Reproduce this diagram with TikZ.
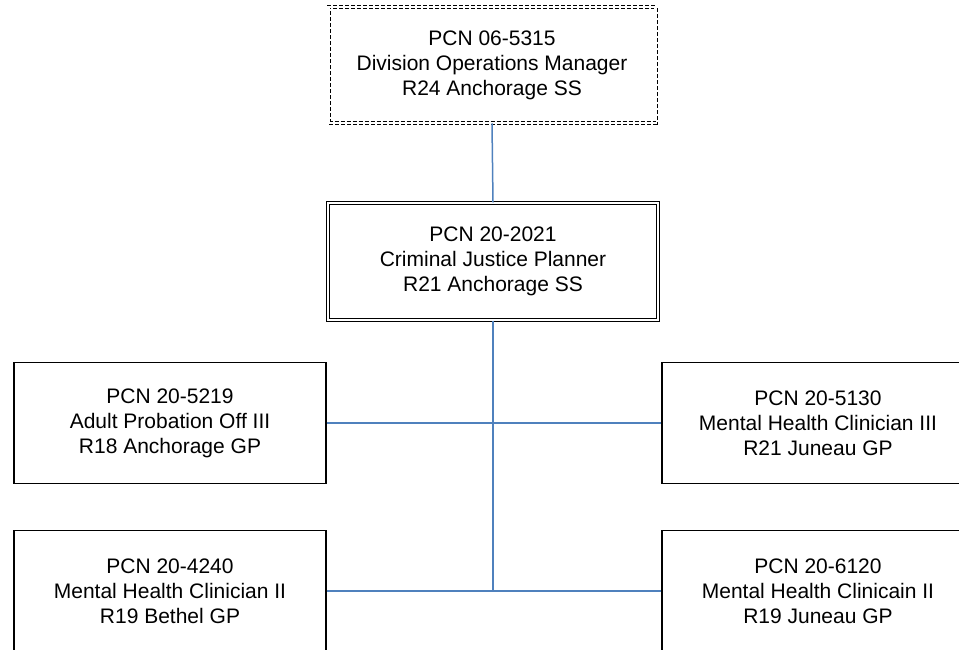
\documentclass[tikz,border=0pt]{standalone}
\usepackage{fontspec}
\setmainfont{Liberation Sans}
\usepackage{xcolor}
\definecolor{linkblue}{HTML}{4F81BD}

\begin{document}
\begin{tikzpicture}[x=1pt,y=-1pt,
  post/.style={draw=black,line width=1.1pt,fill=white,align=center,inner sep=0pt,
    font=\fontsize{21}{25}\selectfont,minimum width=312pt,minimum height=121pt},
  link/.style={draw=linkblue,line width=1.5pt}]
\clip (0,0) rectangle (959,649);
\node[post,dashed,double,double distance=2.2pt,line width=0.9pt,minimum width=327pt,minimum height=116pt,dash pattern=on 4pt off 2pt] (dom) at (492,65) {PCN 06-5315\\Division Operations Manager\\R24 Anchorage SS};
\node[post,double,double distance=2.3pt,line width=1.1pt,minimum width=330pt,minimum height=117pt] (cjp) at (493,261.5) {PCN 20-2021\\Criminal Justice Planner\\R21 Anchorage SS};
\node[post] (apo) at (170,423) {PCN 20-5219\\Adult Probation Off III\\R18 Anchorage GP};
\node[post] (mhcj) at (818,423) {PCN 20-5130\\Mental Health Clinician III\\R21 Juneau GP};
\node[post] (mhcb) at (170,591) {PCN 20-4240\\Mental Health Clinician II\\R19 Bethel GP};
\node[post] (mhcjb) at (818,591) {PCN 20-6120\\Mental Health Clinicain II\\R19 Juneau GP};
\coordinate (trunk) at (cjp.south |- mhcb.east);
\draw[link] (dom.south) -- (cjp.north);
\draw[link] (cjp.south) -- (trunk);
\draw[link] (apo.east) -- (mhcj.west);
\draw[link] (mhcb.east) -- (mhcjb.west);
\end{tikzpicture}
\end{document}
